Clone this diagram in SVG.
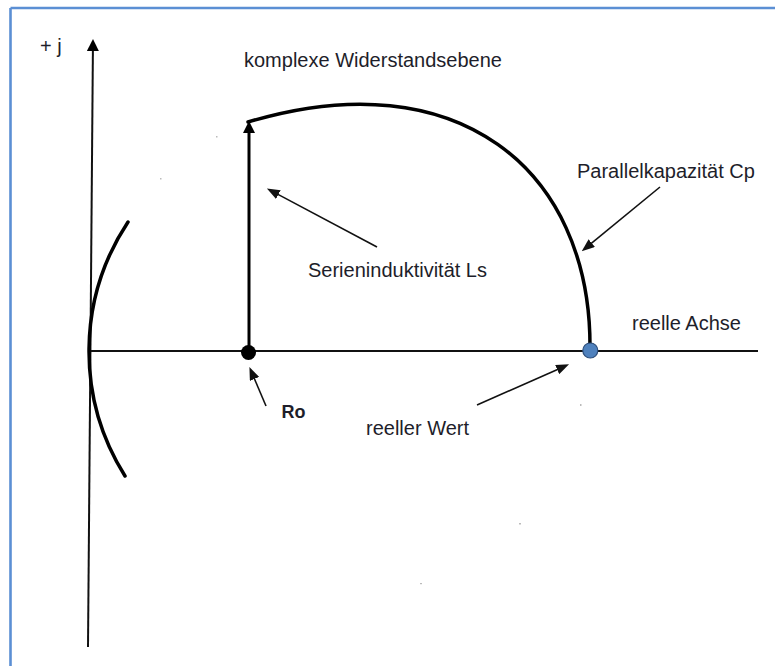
<svg xmlns="http://www.w3.org/2000/svg" width="775" height="666" viewBox="0 0 775 666">
  <style>
    .t { font-family: "Liberation Sans", Arial, sans-serif; font-size: 20px; fill: #1e1e2a; }
    .b { font-weight: bold; font-size: 18px; }
    .ax { stroke: #111; stroke-width: 2; fill: none; }
    .thick { stroke: #000; stroke-width: 3.5; fill: none; stroke-linecap: round; }
    .thin { stroke: #111; stroke-width: 1.6; fill: none; }
  </style>
  <defs>
    <marker id="bigHead" markerUnits="userSpaceOnUse" viewBox="0 0 12 12" refX="1" refY="6" markerWidth="12" markerHeight="12" orient="auto">
      <path d="M0,0 L12,6 L0,12 z" fill="#000"/>
    </marker>
    <marker id="smallHead" markerUnits="userSpaceOnUse" viewBox="0 0 13 10" refX="1" refY="5" markerWidth="13" markerHeight="10" orient="auto">
      <path d="M0,0 L13,5 L0,10 z" fill="#111"/>
    </marker>
  </defs>
  <rect width="775" height="666" fill="#fff"/>
  <!-- frame (top and left edges only) -->
  <g id="frame" stroke="#5b8fd4" stroke-width="2.6" fill="none">
    <line x1="10.5" y1="8" x2="775" y2="8"/>
    <line x1="10.5" y1="8" x2="10.5" y2="666"/>
  </g>
  <!-- axes -->
  <g id="axes">
    <line class="ax" x1="88" y1="647" x2="92.9" y2="50" marker-end="url(#bigHead)"/>
    <line class="ax" x1="90" y1="351" x2="758" y2="351"/>
  </g>
  <!-- curves -->
  <g id="curves">
    <path class="thick" d="M128,222 A234,234 0 0 0 125,476"/>
    <path class="thick" d="M248,122 C458,59 590,170 590,346"/>
    <line x1="249" y1="351" x2="249" y2="132" stroke="#000" stroke-width="3" marker-end="url(#bigHead)"/>
  </g>
  <!-- connectors -->
  <g id="connectors">
    <line class="thin" x1="377" y1="247" x2="277.5" y2="194.1" marker-end="url(#smallHead)"/>
    <line class="thin" x1="660" y1="187" x2="591" y2="243.7" marker-end="url(#smallHead)"/>
    <line class="thin" x1="266" y1="406" x2="254.1" y2="378" marker-end="url(#smallHead)"/>
    <line class="thin" x1="477" y1="405" x2="558.1" y2="369.2" marker-end="url(#smallHead)"/>
  </g>
  <!-- nodes -->
  <g id="node-Ro">
    <circle cx="248.5" cy="352.5" r="7.5" fill="#000"/>
    <text class="t b" x="281.5" y="418">Ro</text>
  </g>
  <g id="node-realvalue">
    <circle cx="590.3" cy="350.5" r="7.5" fill="#4f81bd" stroke="#2e4f7c" stroke-width="1.2"/>
  </g>
  <!-- labels -->
  <g id="labels">
    <text class="t" x="40" y="53" font-size="18">+ j</text>
    <text class="t" x="244" y="67">komplexe Widerstandsebene</text>
    <text class="t" x="577" y="178">Parallelkapazität Cp</text>
    <text class="t" x="632" y="330">reelle Achse</text>
    <text class="t" x="308" y="277">Serieninduktivität Ls</text>
    <text class="t" x="366" y="435">reeller Wert</text>
  </g>
  <!-- faint specks -->
  <g id="specks" fill="#bbb">
    <rect x="216" y="136" width="1.5" height="1.5"/>
    <rect x="160" y="178" width="1.5" height="1.5"/>
    <rect x="580" y="404" width="1.5" height="2"/>
    <rect x="519" y="523" width="2" height="1.5"/>
    <rect x="420" y="583" width="2" height="1.2"/>
  </g>
</svg>
